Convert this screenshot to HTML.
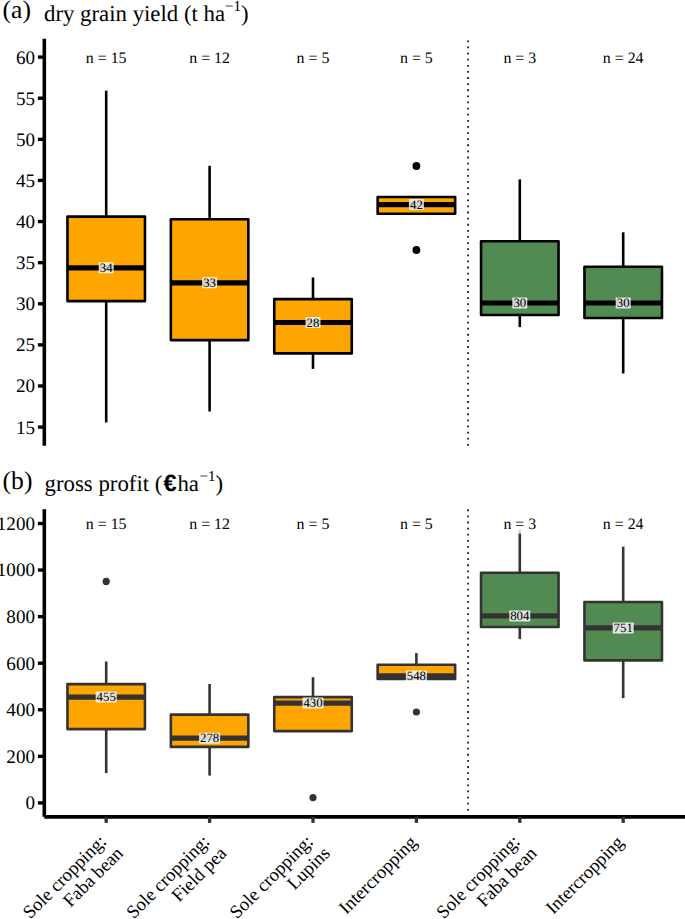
<!DOCTYPE html>
<html><head><meta charset="utf-8"><title>Boxplots</title>
<style>html,body{margin:0;padding:0;background:#fff;}svg{display:block;}svg text{font-family:"Liberation Serif","DejaVu Serif",serif;text-rendering:geometricPrecision;}</style>
</head><body>
<svg width="685" height="919" viewBox="0 0 685 919">
<rect width="685" height="919" fill="#fff"/>
<text x="2.6" y="17.9" font-size="25.6" fill="#000">(a)</text>
<text x="44" y="21.2" font-size="22.8" fill="#000">dry grain yield (t ha<tspan font-size="15" dy="-10.4">−1</tspan><tspan dy="10.4">)</tspan></text>
<text x="2.6" y="489.0" font-size="25.6" fill="#000">(b)</text>
<text x="44.6" y="490.6" font-size="22.8" fill="#000">gross profit (<tspan style="font-family:'Liberation Sans','DejaVu Sans',sans-serif;font-weight:bold" font-size="23.5" dx="1.2">€</tspan><tspan dx="0.8">ha</tspan><tspan font-size="15" dy="-9.6" dx="0.6">−1</tspan><tspan dy="9.6">)</tspan></text>
<line x1="44.3" y1="38.7" x2="44.3" y2="445.7" stroke="#000" stroke-width="3.6"/>
<line x1="37.9" y1="427.10" x2="44.3" y2="427.10" stroke="#000" stroke-width="3.4"/>
<text x="35.0" y="433.50" font-size="19.1" text-anchor="end" fill="#000">15</text>
<line x1="37.9" y1="385.99" x2="44.3" y2="385.99" stroke="#000" stroke-width="3.4"/>
<text x="35.0" y="392.39" font-size="19.1" text-anchor="end" fill="#000">20</text>
<line x1="37.9" y1="344.88" x2="44.3" y2="344.88" stroke="#000" stroke-width="3.4"/>
<text x="35.0" y="351.28" font-size="19.1" text-anchor="end" fill="#000">25</text>
<line x1="37.9" y1="303.77" x2="44.3" y2="303.77" stroke="#000" stroke-width="3.4"/>
<text x="35.0" y="310.17" font-size="19.1" text-anchor="end" fill="#000">30</text>
<line x1="37.9" y1="262.66" x2="44.3" y2="262.66" stroke="#000" stroke-width="3.4"/>
<text x="35.0" y="269.06" font-size="19.1" text-anchor="end" fill="#000">35</text>
<line x1="37.9" y1="221.54" x2="44.3" y2="221.54" stroke="#000" stroke-width="3.4"/>
<text x="35.0" y="227.94" font-size="19.1" text-anchor="end" fill="#000">40</text>
<line x1="37.9" y1="180.43" x2="44.3" y2="180.43" stroke="#000" stroke-width="3.4"/>
<text x="35.0" y="186.83" font-size="19.1" text-anchor="end" fill="#000">45</text>
<line x1="37.9" y1="139.32" x2="44.3" y2="139.32" stroke="#000" stroke-width="3.4"/>
<text x="35.0" y="145.72" font-size="19.1" text-anchor="end" fill="#000">50</text>
<line x1="37.9" y1="98.21" x2="44.3" y2="98.21" stroke="#000" stroke-width="3.4"/>
<text x="35.0" y="104.61" font-size="19.1" text-anchor="end" fill="#000">55</text>
<line x1="37.9" y1="57.10" x2="44.3" y2="57.10" stroke="#000" stroke-width="3.4"/>
<text x="35.0" y="63.50" font-size="19.1" text-anchor="end" fill="#000">60</text>
<text x="106.2" y="62.6" font-size="15.9" text-anchor="middle" fill="#000">n = 15</text>
<text x="209.60000000000002" y="62.6" font-size="15.9" text-anchor="middle" fill="#000">n = 12</text>
<text x="313.0" y="62.6" font-size="15.9" text-anchor="middle" fill="#000">n = 5</text>
<text x="416.40000000000003" y="62.6" font-size="15.9" text-anchor="middle" fill="#000">n = 5</text>
<text x="519.8000000000001" y="62.6" font-size="15.9" text-anchor="middle" fill="#000">n = 3</text>
<text x="623.2" y="62.6" font-size="15.9" text-anchor="middle" fill="#000">n = 24</text>
<line x1="468.1" y1="445.7" x2="468.1" y2="38.7" stroke="#000" stroke-width="1.6" stroke-dasharray="1.8 4.313"/>
<line x1="106.2" y1="90.7" x2="106.2" y2="216.6" stroke="#000" stroke-width="2.6"/>
<line x1="106.2" y1="301.1" x2="106.2" y2="422.4" stroke="#000" stroke-width="2.6"/>
<rect x="67.45" y="216.6" width="77.5" height="84.50000000000003" fill="#FFA500" stroke="#000" stroke-width="2.6" stroke-linejoin="round"/>
<line x1="67.45" y1="267.8" x2="144.95" y2="267.8" stroke="#000" stroke-width="5.2"/>
<rect x="98.7" y="262.3" width="15.0" height="11.0" rx="0.8" fill="#ffffff" fill-opacity="0.82"/>
<text x="106.2" y="272.00" font-size="12.8" text-anchor="middle" fill="#000">34</text>
<line x1="209.60000000000002" y1="165.8" x2="209.60000000000002" y2="219.2" stroke="#000" stroke-width="2.6"/>
<line x1="209.60000000000002" y1="340.1" x2="209.60000000000002" y2="411.5" stroke="#000" stroke-width="2.6"/>
<rect x="170.85000000000002" y="219.2" width="77.5" height="120.90000000000003" fill="#FFA500" stroke="#000" stroke-width="2.6" stroke-linejoin="round"/>
<line x1="170.85000000000002" y1="282.8" x2="248.35000000000002" y2="282.8" stroke="#000" stroke-width="5.2"/>
<rect x="202.10000000000002" y="277.3" width="15.0" height="11.0" rx="0.8" fill="#ffffff" fill-opacity="0.82"/>
<text x="209.60000000000002" y="287.00" font-size="12.8" text-anchor="middle" fill="#000">33</text>
<line x1="313.0" y1="277.5" x2="313.0" y2="299.1" stroke="#000" stroke-width="2.6"/>
<line x1="313.0" y1="353.4" x2="313.0" y2="368.9" stroke="#000" stroke-width="2.6"/>
<rect x="274.25" y="299.1" width="77.5" height="54.299999999999955" fill="#FFA500" stroke="#000" stroke-width="2.6" stroke-linejoin="round"/>
<line x1="274.25" y1="322.5" x2="351.75" y2="322.5" stroke="#000" stroke-width="5.2"/>
<rect x="305.5" y="317.0" width="15.0" height="11.0" rx="0.8" fill="#ffffff" fill-opacity="0.82"/>
<text x="313.0" y="326.70" font-size="12.8" text-anchor="middle" fill="#000">28</text>
<rect x="377.65000000000003" y="197.0" width="77.5" height="16.69999999999999" fill="#FFA500" stroke="#000" stroke-width="2.6" stroke-linejoin="round"/>
<line x1="377.65000000000003" y1="204.6" x2="455.15000000000003" y2="204.6" stroke="#000" stroke-width="5.2"/>
<circle cx="416.40000000000003" cy="166" r="3.9" fill="#000"/>
<circle cx="416.40000000000003" cy="250" r="3.9" fill="#000"/>
<rect x="408.90000000000003" y="199.1" width="15.0" height="11.0" rx="0.8" fill="#ffffff" fill-opacity="0.82"/>
<text x="416.40000000000003" y="208.80" font-size="12.8" text-anchor="middle" fill="#000">42</text>
<line x1="519.8000000000001" y1="179.4" x2="519.8000000000001" y2="241.3" stroke="#000" stroke-width="2.6"/>
<line x1="519.8000000000001" y1="315" x2="519.8000000000001" y2="327.1" stroke="#000" stroke-width="2.6"/>
<rect x="481.05000000000007" y="241.3" width="77.5" height="73.69999999999999" fill="#528B52" stroke="#000" stroke-width="2.6" stroke-linejoin="round"/>
<line x1="481.05000000000007" y1="303" x2="558.5500000000001" y2="303" stroke="#000" stroke-width="5.2"/>
<rect x="512.3000000000001" y="297.5" width="15.0" height="11.0" rx="0.8" fill="#ffffff" fill-opacity="0.82"/>
<text x="519.8000000000001" y="307.20" font-size="12.8" text-anchor="middle" fill="#000">30</text>
<line x1="623.2" y1="232.3" x2="623.2" y2="266.8" stroke="#000" stroke-width="2.6"/>
<line x1="623.2" y1="318" x2="623.2" y2="373.5" stroke="#000" stroke-width="2.6"/>
<rect x="584.45" y="266.8" width="77.5" height="51.19999999999999" fill="#528B52" stroke="#000" stroke-width="2.6" stroke-linejoin="round"/>
<line x1="584.45" y1="303" x2="661.95" y2="303" stroke="#000" stroke-width="5.2"/>
<rect x="615.7" y="297.5" width="15.0" height="11.0" rx="0.8" fill="#ffffff" fill-opacity="0.82"/>
<text x="623.2" y="307.20" font-size="12.8" text-anchor="middle" fill="#000">30</text>
<line x1="44.3" y1="509.2" x2="44.3" y2="816.8" stroke="#000" stroke-width="3.6"/>
<line x1="44.3" y1="816.9" x2="685" y2="816.9" stroke="#000" stroke-width="3.8"/>
<line x1="37.9" y1="802.90" x2="44.3" y2="802.90" stroke="#000" stroke-width="3.4"/>
<text x="35.0" y="809.30" font-size="19.1" text-anchor="end" fill="#000">0</text>
<line x1="37.9" y1="756.33" x2="44.3" y2="756.33" stroke="#000" stroke-width="3.4"/>
<text x="35.0" y="762.73" font-size="19.1" text-anchor="end" fill="#000">200</text>
<line x1="37.9" y1="709.77" x2="44.3" y2="709.77" stroke="#000" stroke-width="3.4"/>
<text x="35.0" y="716.17" font-size="19.1" text-anchor="end" fill="#000">400</text>
<line x1="37.9" y1="663.20" x2="44.3" y2="663.20" stroke="#000" stroke-width="3.4"/>
<text x="35.0" y="669.60" font-size="19.1" text-anchor="end" fill="#000">600</text>
<line x1="37.9" y1="616.64" x2="44.3" y2="616.64" stroke="#000" stroke-width="3.4"/>
<text x="35.0" y="623.04" font-size="19.1" text-anchor="end" fill="#000">800</text>
<line x1="37.9" y1="570.07" x2="44.3" y2="570.07" stroke="#000" stroke-width="3.4"/>
<text x="35.0" y="576.47" font-size="19.1" text-anchor="end" fill="#000">1000</text>
<line x1="37.9" y1="523.50" x2="44.3" y2="523.50" stroke="#000" stroke-width="3.4"/>
<text x="35.0" y="529.90" font-size="19.1" text-anchor="end" fill="#000">1200</text>
<line x1="106.20" y1="816.8" x2="106.20" y2="822.9" stroke="#333" stroke-width="3.3"/>
<line x1="209.60" y1="816.8" x2="209.60" y2="822.9" stroke="#333" stroke-width="3.3"/>
<line x1="313.00" y1="816.8" x2="313.00" y2="822.9" stroke="#333" stroke-width="3.3"/>
<line x1="416.40" y1="816.8" x2="416.40" y2="822.9" stroke="#333" stroke-width="3.3"/>
<line x1="519.80" y1="816.8" x2="519.80" y2="822.9" stroke="#333" stroke-width="3.3"/>
<line x1="623.20" y1="816.8" x2="623.20" y2="822.9" stroke="#333" stroke-width="3.3"/>
<line x1="468.1" y1="816.8" x2="468.1" y2="509.2" stroke="#000" stroke-width="1.6" stroke-dasharray="1.8 4.313"/>
<line x1="106.2" y1="661.5" x2="106.2" y2="684.1" stroke="#333333" stroke-width="2.6"/>
<line x1="106.2" y1="729.1" x2="106.2" y2="773.1" stroke="#333333" stroke-width="2.6"/>
<rect x="67.45" y="684.1" width="77.5" height="45.0" fill="#FFA500" stroke="#333333" stroke-width="2.6" stroke-linejoin="round"/>
<line x1="67.45" y1="697.1" x2="144.95" y2="697.1" stroke="#333333" stroke-width="5.2"/>
<circle cx="106.2" cy="581.4" r="3.6" fill="#333333"/>
<rect x="95.7" y="691.6" width="21.0" height="11.0" rx="0.8" fill="#ffffff" fill-opacity="0.82"/>
<text x="106.2" y="701.30" font-size="12.8" text-anchor="middle" fill="#000">455</text>
<line x1="209.60000000000002" y1="684" x2="209.60000000000002" y2="714.6" stroke="#333333" stroke-width="2.6"/>
<line x1="209.60000000000002" y1="746.9" x2="209.60000000000002" y2="775.6" stroke="#333333" stroke-width="2.6"/>
<rect x="170.85000000000002" y="714.6" width="77.5" height="32.299999999999955" fill="#FFA500" stroke="#333333" stroke-width="2.6" stroke-linejoin="round"/>
<line x1="170.85000000000002" y1="738.2" x2="248.35000000000002" y2="738.2" stroke="#333333" stroke-width="5.2"/>
<rect x="199.10000000000002" y="732.7" width="21.0" height="11.0" rx="0.8" fill="#ffffff" fill-opacity="0.82"/>
<text x="209.60000000000002" y="742.40" font-size="12.8" text-anchor="middle" fill="#000">278</text>
<line x1="313.0" y1="677.2" x2="313.0" y2="697.1" stroke="#333333" stroke-width="2.6"/>
<rect x="274.25" y="697.1" width="77.5" height="34.0" fill="#FFA500" stroke="#333333" stroke-width="2.6" stroke-linejoin="round"/>
<line x1="274.25" y1="703.1" x2="351.75" y2="703.1" stroke="#333333" stroke-width="5.2"/>
<circle cx="313.0" cy="797.6" r="3.6" fill="#333333"/>
<rect x="302.5" y="697.6" width="21.0" height="11.0" rx="0.8" fill="#ffffff" fill-opacity="0.82"/>
<text x="313.0" y="707.30" font-size="12.8" text-anchor="middle" fill="#000">430</text>
<line x1="416.40000000000003" y1="653.1" x2="416.40000000000003" y2="664.7" stroke="#333333" stroke-width="2.6"/>
<rect x="377.65000000000003" y="664.7" width="77.5" height="14.299999999999955" fill="#FFA500" stroke="#333333" stroke-width="2.6" stroke-linejoin="round"/>
<line x1="377.65000000000003" y1="675.9" x2="455.15000000000003" y2="675.9" stroke="#333333" stroke-width="5.2"/>
<circle cx="416.40000000000003" cy="712" r="3.6" fill="#333333"/>
<rect x="405.90000000000003" y="670.4" width="21.0" height="11.0" rx="0.8" fill="#ffffff" fill-opacity="0.82"/>
<text x="416.40000000000003" y="680.10" font-size="12.8" text-anchor="middle" fill="#000">548</text>
<line x1="519.8000000000001" y1="529.7" x2="519.8000000000001" y2="572.7" stroke="#333333" stroke-width="2.6"/>
<line x1="519.8000000000001" y1="627" x2="519.8000000000001" y2="639.1" stroke="#333333" stroke-width="2.6"/>
<rect x="481.05000000000007" y="572.7" width="77.5" height="54.299999999999955" fill="#528B52" stroke="#333333" stroke-width="2.6" stroke-linejoin="round"/>
<line x1="481.05000000000007" y1="615.9" x2="558.5500000000001" y2="615.9" stroke="#333333" stroke-width="5.2"/>
<rect x="509.30000000000007" y="610.4" width="21.0" height="11.0" rx="0.8" fill="#ffffff" fill-opacity="0.82"/>
<text x="519.8000000000001" y="620.10" font-size="12.8" text-anchor="middle" fill="#000">804</text>
<rect x="498.80" y="513.4" width="42" height="20.2" fill="#fff" fill-opacity="0.8"/>
<line x1="623.2" y1="546.6" x2="623.2" y2="602" stroke="#333333" stroke-width="2.6"/>
<line x1="623.2" y1="660.4" x2="623.2" y2="698.1" stroke="#333333" stroke-width="2.6"/>
<rect x="584.45" y="602" width="77.5" height="58.39999999999998" fill="#528B52" stroke="#333333" stroke-width="2.6" stroke-linejoin="round"/>
<line x1="584.45" y1="627.9" x2="661.95" y2="627.9" stroke="#333333" stroke-width="5.2"/>
<rect x="612.7" y="622.4" width="21.0" height="11.0" rx="0.8" fill="#ffffff" fill-opacity="0.82"/>
<text x="623.2" y="632.10" font-size="12.8" text-anchor="middle" fill="#000">751</text>
<text x="106.20" y="528.7" font-size="15.9" text-anchor="middle" fill="#000">n = 15</text>
<text x="209.60" y="528.7" font-size="15.9" text-anchor="middle" fill="#000">n = 12</text>
<text x="313.00" y="528.7" font-size="15.9" text-anchor="middle" fill="#000">n = 5</text>
<text x="416.40" y="528.7" font-size="15.9" text-anchor="middle" fill="#000">n = 5</text>
<text x="519.80" y="528.7" font-size="15.9" text-anchor="middle" fill="#000">n = 3</text>
<text x="623.20" y="528.7" font-size="15.9" text-anchor="middle" fill="#000">n = 24</text>
<text transform="translate(107.30,842.5) rotate(-45)" font-size="18.6" text-anchor="end" fill="#000">Sole cropping:</text>
<text transform="translate(124.20,854.3) rotate(-45)" font-size="18.6" text-anchor="end" fill="#000">Faba bean</text>
<text transform="translate(210.70,842.5) rotate(-45)" font-size="18.6" text-anchor="end" fill="#000">Sole cropping:</text>
<text transform="translate(227.60,854.3) rotate(-45)" font-size="18.6" text-anchor="end" fill="#000">Field pea</text>
<text transform="translate(314.10,842.5) rotate(-45)" font-size="18.6" text-anchor="end" fill="#000">Sole cropping:</text>
<text transform="translate(331.00,854.3) rotate(-45)" font-size="18.6" text-anchor="end" fill="#000">Lupins</text>
<text transform="translate(417.90,843.5) rotate(-45)" font-size="18.6" text-anchor="end" fill="#000">Intercropping</text>
<text transform="translate(520.90,842.5) rotate(-45)" font-size="18.6" text-anchor="end" fill="#000">Sole cropping:</text>
<text transform="translate(537.80,854.3) rotate(-45)" font-size="18.6" text-anchor="end" fill="#000">Faba bean</text>
<text transform="translate(624.70,843.5) rotate(-45)" font-size="18.6" text-anchor="end" fill="#000">Intercropping</text>
</svg>
</body></html>
